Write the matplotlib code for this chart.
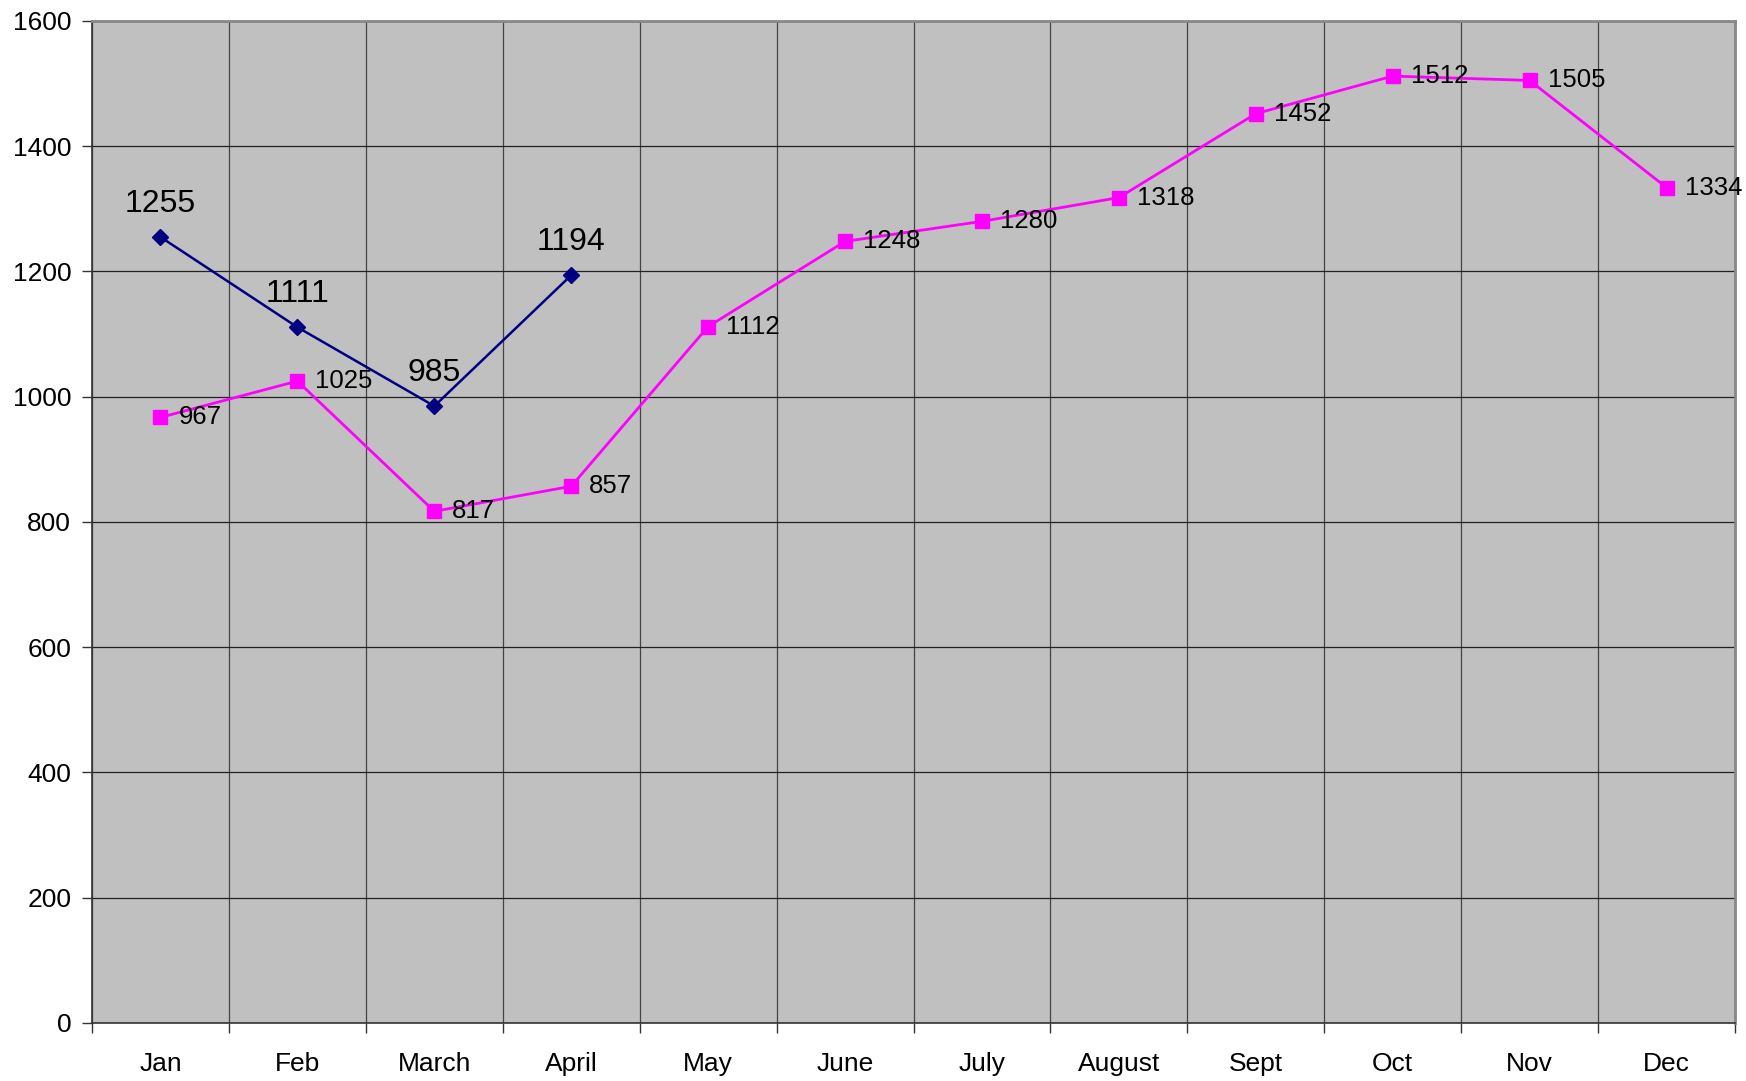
import matplotlib
matplotlib.use("Agg")
import matplotlib.pyplot as plt
import numpy as np

plt.rcParams['font.family'] = ['Liberation Sans', 'DejaVu Sans']

months = ['Jan', 'Feb', 'March', 'April', 'May', 'June', 'July',
          'August', 'Sept', 'Oct', 'Nov', 'Dec']
series_pink = [967, 1025, 817, 857, 1112, 1248, 1280, 1318, 1452, 1512, 1505, 1334]
series_blue = [1255, 1111, 985, 1194]
y_ticks = [0, 200, 400, 600, 800, 1000, 1200, 1400, 1600]

fig = plt.figure(figsize=(17.46, 10.81), dpi=100)
ax = fig.add_axes([0.0527, 0.0537, 0.9410, 0.9269])
ax.set_facecolor('#C0C0C0')

xp = np.arange(len(series_pink))
xb = np.arange(len(series_blue))

ax.plot(xp, series_pink, color='#FF00FF', lw=2.0, marker='s', ms=10,
        markeredgecolor='#FF00FF', zorder=3)
ax.plot(xb, series_blue, color='#000080', lw=1.8, marker='D', ms=8.5,
        markeredgecolor='#000080', zorder=4)

for x, v in zip(xp, series_pink):
    ax.annotate(str(v), (x, v), xytext=(13, 0), textcoords='offset points',
                ha='left', va='center', fontsize=18.5, color='black',
                annotation_clip=False)
for x, v in zip(xb, series_blue):
    ax.annotate(str(v), (x, v), xytext=(0, 13), textcoords='offset points',
                ha='center', va='bottom', fontsize=23, color='black')

ax.set_xlim(-0.5, len(months) - 0.5)
ax.set_ylim(0, 1600)
ax.set_yticks(y_ticks)
ax.set_xticks(xp)
ax.set_xticklabels(months)
ax.set_xticks(np.arange(-0.5, len(months), 1.0), minor=True)

ax.tick_params(axis='x', which='major', length=0, pad=21, labelsize=19)
ax.tick_params(axis='x', which='minor', length=7, width=1, color='#333333', direction='out')
ax.tick_params(axis='y', length=7, width=1, color='#333333', pad=8, labelsize=19)

ax.grid(axis='y', which='major', color='#222222', lw=0.9)
ax.grid(axis='x', which='minor', color='#444444', lw=0.9)
ax.set_axisbelow(True)

for s in ['left', 'bottom']:
    ax.spines[s].set_color('#333333')
    ax.spines[s].set_linewidth(1.2)
for s in ['top', 'right']:
    ax.spines[s].set_color('#888888')
    ax.spines[s].set_linewidth(2)

fig.savefig('out.png', dpi=100)
